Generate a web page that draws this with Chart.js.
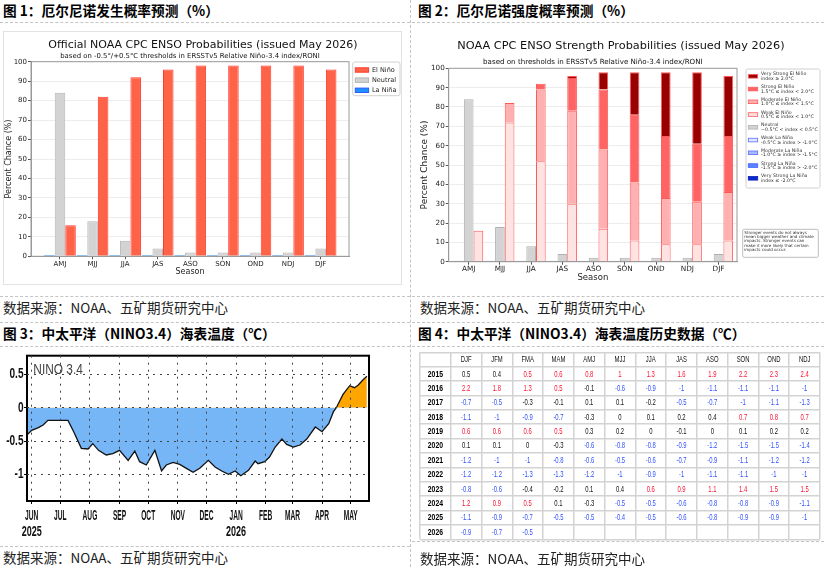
<!DOCTYPE html>
<html lang="zh-CN"><head><meta charset="utf-8"><title>ENSO</title>
<script src="https://cdn.jsdelivr.net/npm/chart.js@4.4.1/dist/chart.umd.min.js"></script>
<style>
html,body{margin:0;padding:0;background:#fff;}
body{width:824px;height:567px;position:relative;overflow:hidden;font-family:"Noto Sans CJK SC","Noto Sans",sans-serif;}
.h{position:absolute;font-weight:700;font-size:13.7px;line-height:16px;color:#000;white-space:nowrap;}
.s{position:absolute;font-size:13.5px;line-height:16px;color:#222;white-space:nowrap;}
.hl{position:absolute;height:0;border-top:1px dashed #c4c4c4;}
.vl{position:absolute;width:0;border-left:1px dashed #c4c4c4;}
.box{position:absolute;border:1px solid #e2e2e2;}
canvas{position:absolute;display:block;}
</style></head><body>
<div class="h" style="left:3px;top:2px">图 1：厄尔尼诺发生概率预测（%）</div>
<div class="h" style="left:418px;top:2px">图 2：厄尔尼诺强度概率预测（%）</div>
<div class="hl" style="left:0;top:22px;width:410px"></div>
<div class="hl" style="left:412px;top:22px;width:412px"></div>
<div class="box" style="left:3px;top:31px;width:397px;height:252px"></div>
<canvas id="c1" width="399" height="254" style="left:3px;top:31px"></canvas>
<canvas id="c2" width="412" height="272" style="left:412px;top:24px"></canvas>
<div class="hl" style="left:0;top:296px;width:410px"></div>
<div class="hl" style="left:412px;top:296px;width:412px"></div>
<div class="s" style="left:3px;top:299px">数据来源：NOAA、五矿期货研究中心</div>
<div class="s" style="left:420px;top:299px">数据来源：NOAA、五矿期货研究中心</div>
<div class="hl" style="left:0;top:322px;width:410px"></div>
<div class="hl" style="left:412px;top:322px;width:412px"></div>
<div class="h" style="left:3px;top:325px">图 3：中太平洋（NINO3.4）海表温度（℃）</div>
<div class="h" style="left:418px;top:325px">图 4：中太平洋（NINO3.4）海表温度历史数据（℃）</div>
<div class="hl" style="left:0;top:346px;width:410px"></div>
<div class="hl" style="left:412px;top:346px;width:412px"></div>
<canvas id="c3" width="410" height="198" style="left:0;top:348px"></canvas>
<canvas id="c4" width="412" height="197" style="left:412px;top:348px"></canvas>
<div class="hl" style="left:0;top:546px;width:410px"></div>
<div class="hl" style="left:412px;top:541px;width:412px"></div>
<div class="s" style="left:3px;top:549px">数据来源：NOAA、五矿期货研究中心</div>
<div class="s" style="left:420px;top:550px">数据来源：NOAA、五矿期货研究中心</div>
<div class="vl" style="left:410px;top:0;height:567px"></div>
<script>
// ---------------- DATA ----------------
const seasons = ['AMJ','MJJ','JJA','JAS','ASO','SON','OND','NDJ','DJF'];
const probLaNina  = [0,0,0,0,0,0,0,0,0];
const probNeutral = [84,18,8,4,2,2,2,2,4];
const probElNino  = [16,82,92,96,98,98,98,98,96];

const strVeryStrongEl = [0,0,0,1,9,22,33,37,31];
const strStrongEl     = [0,0,3,17,31,35,32,30,29];
const strModerateEl   = [0,10,37,48,41,30,24,22,25];
const strWeakEl       = [16,72,52,30,17,11,9,9,11];
const strNeutral      = [84,18,8,4,2,2,2,2,4];
const strWeakLa       = [0,0,0,0,0,0,0,0,0];
const strModerateLa   = [0,0,0,0,0,0,0,0,0];
const strStrongLa     = [0,0,0,0,0,0,0,0,0];
const strVeryStrongLa = [0,0,0,0,0,0,0,0,0];
const strengthLabels = ['Very Strong El Niño','Strong El Niño','Moderate El Niño','Weak El Niño','Neutral','Weak La Niña','Moderate La Niña','Strong La Niña','Very Strong La Niña'];
const strengthRanges = ['index ≥ 2.0°C','1.5°C ≤ index < 2.0°C','1.0°C ≤ index < 1.5°C','0.5°C ≤ index < 1.0°C','−0.5°C < index < 0.5°C','-0.5°C ≥ index > -1.0°C','-1.0°C ≥ index > -1.5°C','-1.5°C ≥ index > -2.0°C','index ≤ -2.0°C'];
const strengthNote = ['Stronger events do not always','mean bigger weather and climate','impacts. Stronger events can','make it more likely that certain','impacts could occur.'];

const ninoDates = ['2025-05-27','2025-06-01','2025-06-08','2025-06-13','2025-06-18','2025-06-29','2025-07-09','2025-07-15','2025-07-23','2025-07-30',
  '2025-08-04','2025-08-10','2025-08-18','2025-08-25','2025-09-01','2025-09-10','2025-09-17','2025-09-22','2025-09-29','2025-10-08',
  '2025-10-15','2025-10-20','2025-10-27','2025-11-03','2025-11-10','2025-11-17','2025-11-24','2025-12-03','2025-12-10','2025-12-17',
  '2025-12-24','2025-12-31','2026-01-06','2026-01-14','2026-01-21','2026-01-24','2026-01-31','2026-02-05','2026-02-11','2026-02-18',
  '2026-02-23','2026-03-02','2026-03-09','2026-03-16','2026-03-25','2026-04-01','2026-04-08','2026-04-13','2026-04-16','2026-04-23',
  '2026-04-30','2026-05-05','2026-05-09','2026-05-14','2026-05-18'];
const ninoValues = [-0.41,-0.34,-0.30,-0.26,-0.19,-0.19,-0.19,-0.36,-0.61,-0.62,
  -0.54,-0.64,-0.71,-0.69,-0.64,-0.79,-0.65,-0.81,-0.86,-0.64,
  -0.95,-0.86,-0.82,-0.85,-0.91,-0.97,-0.91,-0.79,-0.89,-0.95,
  -1.00,-0.95,-1.02,-0.94,-0.80,-0.84,-0.81,-0.74,-0.59,-0.47,
  -0.55,-0.59,-0.56,-0.47,-0.29,-0.36,-0.24,-0.06,0.00,0.20,
  0.33,0.30,0.34,0.42,0.47];
const ninoMonthStarts = ['2025-06-01','2025-07-01','2025-08-01','2025-09-01','2025-10-01','2025-11-01','2025-12-01','2026-01-01','2026-02-01','2026-03-01','2026-04-01','2026-05-01'];
const ninoMonthLabels = ['JUN','JUL','AUG','SEP','OCT','NOV','DEC','JAN','FEB','MAR','APR','MAY'];
const ninoYearLabels  = ['2025','','','','','','','2026','','','',''];
const ninoYTicks = [0.5,0,-0.5,-1];
const ninoYTickLabels = ['0.5','0','-0.5','-1'];

const oniSeasons = ['DJF','JFM','FMA','MAM','AMJ','MJJ','JJA','JAS','ASO','SON','OND','NDJ'];
const oniYears = [2015,2016,2017,2018,2019,2020,2021,2022,2023,2024,2025,2026];
const oniRows = [
  [0.5,0.4,0.5,0.6,0.8,1,1.3,1.6,1.9,2.2,2.3,2.4],
  [2.2,1.8,1.3,0.5,-0.1,-0.6,-0.9,-1,-1.1,-1.1,-1.1,-1],
  [-0.7,-0.5,-0.3,-0.1,0.1,0.1,-0.2,-0.5,-0.7,-1,-1.1,-1.3],
  [-1.1,-1,-0.9,-0.7,-0.3,0,0.1,0.2,0.4,0.7,0.8,0.7],
  [0.6,0.6,0.6,0.5,0.3,0.2,0,-0.1,0,0.1,0.2,0.2],
  [0.1,0.1,0,-0.3,-0.6,-0.8,-0.8,-0.9,-1.2,-1.5,-1.5,-1.4],
  [-1.2,-1,-1,-0.8,-0.6,-0.5,-0.6,-0.7,-0.9,-1.1,-1.2,-1.2],
  [-1.2,-1.2,-1.3,-1.3,-1.2,-1,-0.9,-1,-1.1,-1.1,-1,-1],
  [-0.8,-0.6,-0.4,-0.2,0.1,0.4,0.6,0.9,1.1,1.4,1.5,1.5],
  [1.2,0.9,0.5,0.1,-0.3,-0.5,-0.5,-0.6,-0.8,-0.8,-0.9,-1.1],
  [-1.1,-0.9,-0.7,-0.5,-0.5,-0.4,-0.5,-0.6,-0.8,-0.9,-0.9,-1],
  [-0.9,-0.7,-0.5]
];
// episode phase per cell: E = El Niño, L = La Niña, N = neutral
const oniPhase = ['NNEEEEEEEEEE','EEEENLLLLLLL','LLNNNNNLLLLL','LLLLNNNNNEEE','EEEENNNNNNNN','NNNNLLLLLLLL',
  'LLLLLLLLLLLL','LLLLLLLLLLLL','LLNNNNEEEEEE','EEENNLLLLLLL','LLLLLLLLLLLL','LLL'];

// ---------------- HELPERS ----------------
Chart.defaults.font.family = "'DejaVu Sans', sans-serif";
Chart.defaults.color = '#222';
Chart.defaults.animation = false;
Chart.defaults.responsive = false;
Chart.defaults.devicePixelRatio = 1;
Chart.defaults.plugins.legend.display = false;
Chart.defaults.plugins.tooltip.enabled = false;

function narrow(ctx, text, x, y, font, sx, color, align){
  ctx.save(); ctx.font = font; ctx.fillStyle = color; ctx.textBaseline = 'middle'; ctx.textAlign = align || 'center';
  ctx.translate(x, y); ctx.scale(sx, 1); ctx.fillText(text, 0, 0); ctx.restore();
}
function framePlugin(color, width){
  return {id:'frame', afterDatasetsDraw(c){
    const a = c.chartArea, ctx = c.ctx; ctx.save(); ctx.strokeStyle = color; ctx.lineWidth = width;
    ctx.strokeRect(a.left, a.top, a.right - a.left, a.bottom - a.top); ctx.restore();
  }};
}
function textPlugin(items){
  return {id:'texts', afterDraw(c){
    const ctx = c.ctx, a = c.chartArea;
    items.forEach(t => { ctx.save(); ctx.font = t.font; ctx.fillStyle = t.color || '#222';
      ctx.textAlign = t.align || 'center'; ctx.textBaseline = 'middle';
      const p = t.at(c, a); ctx.fillText(t.text, p[0], p[1]); ctx.restore(); });
  }};
}
function roundRect(ctx, x, y, w, h, r){
  ctx.beginPath(); ctx.moveTo(x + r, y); ctx.lineTo(x + w - r, y); ctx.quadraticCurveTo(x + w, y, x + w, y + r);
  ctx.lineTo(x + w, y + h - r); ctx.quadraticCurveTo(x + w, y + h, x + w - r, y + h); ctx.lineTo(x + r, y + h);
  ctx.quadraticCurveTo(x, y + h, x, y + h - r); ctx.lineTo(x, y + r); ctx.quadraticCurveTo(x, y, x + r, y); ctx.closePath();
}
const pts = arr => arr.map((v, i) => ({x: i, y: v}));
const seasonTicks = s => { s.ticks = seasons.map((_, i) => ({value: i})); };

// ---------------- CHART 1 ----------------
const ds1 = [
  {label:'La Niña', data: pts(probLaNina),  backgroundColor:'#1e90ff', borderColor:'#2a5cff', borderWidth:0, minBarLength:1},
  {label:'Neutral', data: pts(probNeutral), backgroundColor:'#d3d3d3', borderColor:'#b4b4b4', borderWidth:1},
  {label:'El Niño', data: pts(probElNino),  backgroundColor:'#ff6347', borderColor:'#ff3b30', borderWidth:1}
];
new Chart(document.getElementById('c1'), {
  type:'bar',
  data:{datasets: ds1},
  options:{
    layout:{padding:{left:0, right:53, top:30.7, bottom:0}},
    datasets:{bar:{categoryPercentage:0.97, barPercentage:1}},
    scales:{
      x:{type:'linear', min:-0.89, max:8.87, offset:false, afterBuildTicks: seasonTicks,
         afterFit: s => { s.height = 28.7; },
         ticks:{callback:(v, i) => seasons[i], font:{size:7}, color:'#222', padding:1, autoSkip:false, maxRotation:0},
         grid:{offset:false, drawOnChartArea:false, tickLength:3, tickColor:'#555'},
         border:{color:'#999'},
         title:{display:true, text:'Season', font:{size:8}, color:'#222', padding:{top:0, bottom:8.5}}},
      y:{min:0, max:100, afterFit: s => { s.width = 28; },
         ticks:{stepSize:10, font:{size:7}, color:'#222', padding:1},
         grid:{color:'#ededed', tickColor:'#555', tickLength:3},
         border:{color:'#999'},
         title:{display:true, text:'Percent Chance (%)', font:{size:8}, color:'#222', padding:{top:1.2, bottom:0}}}
    }
  },
  plugins:[framePlugin('#9a9a9a', 1),
    textPlugin([
      {text:'Official NOAA CPC ENSO Probabilities (issued May 2026)', font:"11px 'DejaVu Sans'", color:'#111', at:(c)=>[c.width/2 + 0.5, 14]},
      {text:'based on -0.5°/+0.5°C thresholds in ERSSTv5 Relative Niño-3.4 index/RONI', font:"6.9px 'DejaVu Sans'", color:'#111', at:(c,a)=>[(a.left+a.right)/2, 25.7]}
    ]),
    {id:'leg1', afterDraw(c){
      const ctx = c.ctx, a = c.chartArea; const bx = a.right + 3.7, by = a.top + 0.3;
      ctx.save(); roundRect(ctx, bx, by, 47.3, 33.7, 2); ctx.fillStyle = '#fff'; ctx.fill(); ctx.strokeStyle = '#d0d0d0'; ctx.lineWidth = 1; ctx.stroke();
      [2,1,0].forEach((k, i) => {
        const y = by + 8 + i * 10.15, d = c.data.datasets[k];
        ctx.fillStyle = d.backgroundColor; ctx.fillRect(bx + 2.6, y - 2.2, 13.3, 4.4);
        ctx.strokeStyle = d.borderColor; ctx.strokeRect(bx + 2.6, y - 2.2, 13.3, 4.4);
        ctx.fillStyle = '#222'; ctx.font = "6.5px 'DejaVu Sans'"; ctx.textAlign = 'left'; ctx.textBaseline = 'middle';
        ctx.fillText(d.label, bx + 19.3, y);
      });
      ctx.restore();
    }}
  ]
});

// ---------------- CHART 2 ----------------
const redEdge = '#ff5a5a';
const ds2 = [
  {label:strengthLabels[5], sub:strengthRanges[5], stack:'L', data:pts(strWeakLa),       backgroundColor:'#dfe5ff', borderColor:'#5a70ff', borderWidth:0, minBarLength:1},
  {label:strengthLabels[6], sub:strengthRanges[6], stack:'L', data:pts(strModerateLa),   backgroundColor:'#a9b9ff', borderColor:'#5a70ff', borderWidth:1},
  {label:strengthLabels[7], sub:strengthRanges[7], stack:'L', data:pts(strStrongLa),     backgroundColor:'#5b84ff', borderColor:'#3a60ff', borderWidth:1},
  {label:strengthLabels[8], sub:strengthRanges[8], stack:'L', data:pts(strVeryStrongLa), backgroundColor:'#0a2ad0', borderColor:'#0a20b8', borderWidth:1},
  {label:strengthLabels[4], sub:strengthRanges[4], stack:'N', data:pts(strNeutral),      backgroundColor:'#d3d3d3', borderColor:'#b0b0b0', borderWidth:1},
  {label:strengthLabels[3], sub:strengthRanges[3], stack:'E', data:pts(strWeakEl),       backgroundColor:'#ffe3e3', borderColor:redEdge, borderWidth:1},
  {label:strengthLabels[2], sub:strengthRanges[2], stack:'E', data:pts(strModerateEl),   backgroundColor:'#ffb1b1', borderColor:redEdge, borderWidth:1},
  {label:strengthLabels[1], sub:strengthRanges[1], stack:'E', data:pts(strStrongEl),     backgroundColor:'#ff6464', borderColor:redEdge, borderWidth:1},
  {label:strengthLabels[0], sub:strengthRanges[0], stack:'E', data:pts(strVeryStrongEl), backgroundColor:'#990000', borderColor:redEdge, borderWidth:1}
];
new Chart(document.getElementById('c2'), {
  type:'bar',
  data:{datasets: ds2},
  options:{
    layout:{padding:{left:0, right:87, top:44.3, bottom:0}},
    datasets:{bar:{categoryPercentage:0.93, barPercentage:1}},
    scales:{
      x:{type:'linear', stacked:true, min:-0.64, max:8.59, offset:false, afterBuildTicks: seasonTicks,
         afterFit: s => { s.height = 34.3; },
         ticks:{callback:(v, i) => seasons[i], font:{size:7.3}, color:'#222', padding:0, autoSkip:false, maxRotation:0},
         grid:{offset:false, drawOnChartArea:false, tickLength:3, tickColor:'#555'},
         border:{color:'#999'},
         title:{display:true, text:'Season', font:{size:8.5}, color:'#222', padding:{top:0, bottom:12.9}}},
      y:{stacked:true, min:0, max:100, afterFit: s => { s.width = 36.7; },
         ticks:{stepSize:10, font:{size:7.2}, color:'#222', padding:1},
         grid:{color:'#ededed', tickColor:'#555', tickLength:3},
         border:{color:'#999'},
         title:{display:true, text:'Percent Chance (%)', font:{size:9}, color:'#222', padding:{top:7.6, bottom:0}}}
    }
  },
  plugins:[framePlugin('#9a9a9a', 1),
    textPlugin([
      {text:'NOAA CPC ENSO Strength Probabilities (issued May 2026)', font:"11.3px 'DejaVu Sans'", color:'#111', at:()=>[209, 22]},
      {text:'based on thresholds in ERSSTv5 Relative Niño-3.4 index/RONI', font:"7.1px 'DejaVu Sans'", color:'#111', at:(c,a)=>[(a.left+a.right)/2, 38.3]}
    ]),
    {id:'leg2', afterDraw(c){
      const ctx = c.ctx, a = c.chartArea; const bx = a.right + 9, by = a.top + 0.7;
      ctx.save(); roundRect(ctx, bx, by, 74, 119, 1.5); ctx.fillStyle = '#fff'; ctx.fill(); ctx.strokeStyle = '#d0d0d0'; ctx.lineWidth = 1; ctx.stroke();
      const order = [8,7,6,5,4,0,1,2,3];
      order.forEach((k, i) => {
        const d = c.data.datasets[k], y = by + 7.3 + i * 12.75;
        ctx.fillStyle = d.backgroundColor; ctx.fillRect(bx + 2.3, y - 1.8, 9.4, 3.6);
        ctx.strokeStyle = d.borderColor; ctx.lineWidth = 0.8; ctx.strokeRect(bx + 2.3, y - 1.8, 9.4, 3.6);
        ctx.fillStyle = '#333'; ctx.font = "4.7px 'DejaVu Sans'"; ctx.textAlign = 'left'; ctx.textBaseline = 'middle';
        ctx.fillText(d.label, bx + 15, y - 2.1); ctx.fillText(d.sub, bx + 15, y + 2.3);
      });
      const nx = a.right + 5.7, ny = a.bottom - 32.4;
      roundRect(ctx, nx, ny, 75.6, 28, 1.5); ctx.fillStyle = '#fff'; ctx.fill(); ctx.strokeStyle = '#bdbdbd'; ctx.lineWidth = 1; ctx.stroke();
      ctx.fillStyle = '#333'; ctx.font = "4.1px 'DejaVu Sans'";
      strengthNote.forEach((t, i) => ctx.fillText(t, nx + 1.5, ny + 3.4 + i * 4.33));
      ctx.restore();
    }}
  ]
});

// ---------------- CHART 3 ----------------
const baseDay = Date.UTC(2025, 5, 1);
const dayOf = s => { const p = s.split('-').map(Number); return (Date.UTC(p[0], p[1] - 1, p[2]) - baseDay) / 864e5; };
new Chart(document.getElementById('c3'), {
  type:'line',
  data:{datasets:[{data: ninoDates.map((d, i) => ({x: dayOf(d), y: ninoValues[i]})),
    borderColor:'#111', borderWidth:1.3, pointRadius:0, tension:0,
    fill:{target:{value:0}, above:'#ffa500', below:'#77b6f6'}}]},
  options:{
    layout:{padding:{left:0, right:41, top:7.7, bottom:0}},
    scales:{
      x:{type:'linear', min:-4.9, max:353.2,
         afterBuildTicks: s => { s.ticks = ninoMonthStarts.map(d => ({value: dayOf(d)})); },
         afterFit: s => { s.height = 45; },
         ticks:{display:false},
         grid:{display:true, drawOnChartArea:true, color:'#444', lineWidth:1, tickLength:3, tickColor:'#000', z:1},
         border:{display:false, dash:[2,5]}},
      y:{min:-1.4, max:0.78,
         afterBuildTicks: s => { s.ticks = ninoYTicks.map(v => ({value: v})); },
         afterFit: s => { s.width = 27; },
         ticks:{display:false},
         grid:{display:true, drawOnChartArea:true, color:'#444', lineWidth:1, tickLength:3, tickColor:'#000', z:1},
         border:{display:false, dash:[2,5]}}
    }
  },
  plugins:[framePlugin('#000', 2),
    {id:'ninoLabels', afterDraw(c){
      const ctx = c.ctx, a = c.chartArea, xs = c.scales.x, ys = c.scales.y;
      ninoMonthStarts.forEach((d, i) => {
        const px = xs.getPixelForValue(dayOf(d));
        narrow(ctx, ninoMonthLabels[i], px, a.bottom + 15, "bold 15px 'Liberation Sans'", 0.44, '#111');
        if (ninoYearLabels[i]) narrow(ctx, ninoYearLabels[i], px, a.bottom + 31, "bold 15px 'Liberation Sans'", 0.6, '#111');
      });
      ninoYTicks.forEach((v, i) => narrow(ctx, ninoYTickLabels[i], a.left - 3.5, ys.getPixelForValue(v), "bold 14px 'Liberation Sans'", 0.72, '#111', 'right'));
      narrow(ctx, 'NINO 3.4', a.left + 6.3, a.top + 14.8, "14px 'Liberation Sans'", 0.85, '#444', 'left');
    }}
  ]
});

// ---------------- TABLE 4 ----------------
const phaseColor = {E:'#ff1030', L:'#3050ff', N:'#111'};
const cellPts = [];
oniRows.forEach((row, i) => row.forEach((v, j) => cellPts.push({x: j + 1.5, y: i + 1.5})));
const gridTicks = s => { s.ticks = Array.from({length: oniSeasons.length + 2}, (_, i) => ({value: i})); };
new Chart(document.getElementById('c4'), {
  type:'scatter',
  data:{datasets:[{data: cellPts, pointRadius:0}]},
  options:{
    layout:{padding:{left:8, right:4, top:4.3, bottom:5.7}},
    scales:{
      x:{type:'linear', min:0, max:oniSeasons.length + 1, afterBuildTicks: gridTicks, afterFit: s => { s.height = 0; },
         ticks:{display:false}, grid:{color:'#d3d3d3', lineWidth:1.5, drawTicks:false}, border:{display:false}},
      y:{type:'linear', reverse:true, min:0, max:oniYears.length + 1, afterBuildTicks: s => { s.ticks = Array.from({length: oniYears.length + 2}, (_, i) => ({value: i})); },
         afterFit: s => { s.width = 0; },
         ticks:{display:false}, grid:{color:'#d3d3d3', lineWidth:1.5, drawTicks:false}, border:{display:false}}
    }
  },
  plugins:[{id:'cells', afterDatasetsDraw(c){
    const ctx = c.ctx, xs = c.scales.x, ys = c.scales.y;
    oniSeasons.forEach((s, j) => narrow(ctx, s, xs.getPixelForValue(j + 1.5), ys.getPixelForValue(0.5), "9.5px 'Liberation Sans'", 0.62, '#111'));
    oniYears.forEach((yr, i) => {
      const py = ys.getPixelForValue(i + 1.5);
      narrow(ctx, String(yr), xs.getPixelForValue(0.5), py, "bold 9.5px 'Liberation Sans'", 0.72, '#000');
      oniRows[i].forEach((v, j) => narrow(ctx, String(v), xs.getPixelForValue(j + 1.5), py, "9.5px 'Liberation Sans'", 0.62, phaseColor[oniPhase[i][j]]));
    });
  }}]
});
</script>
</body></html>
